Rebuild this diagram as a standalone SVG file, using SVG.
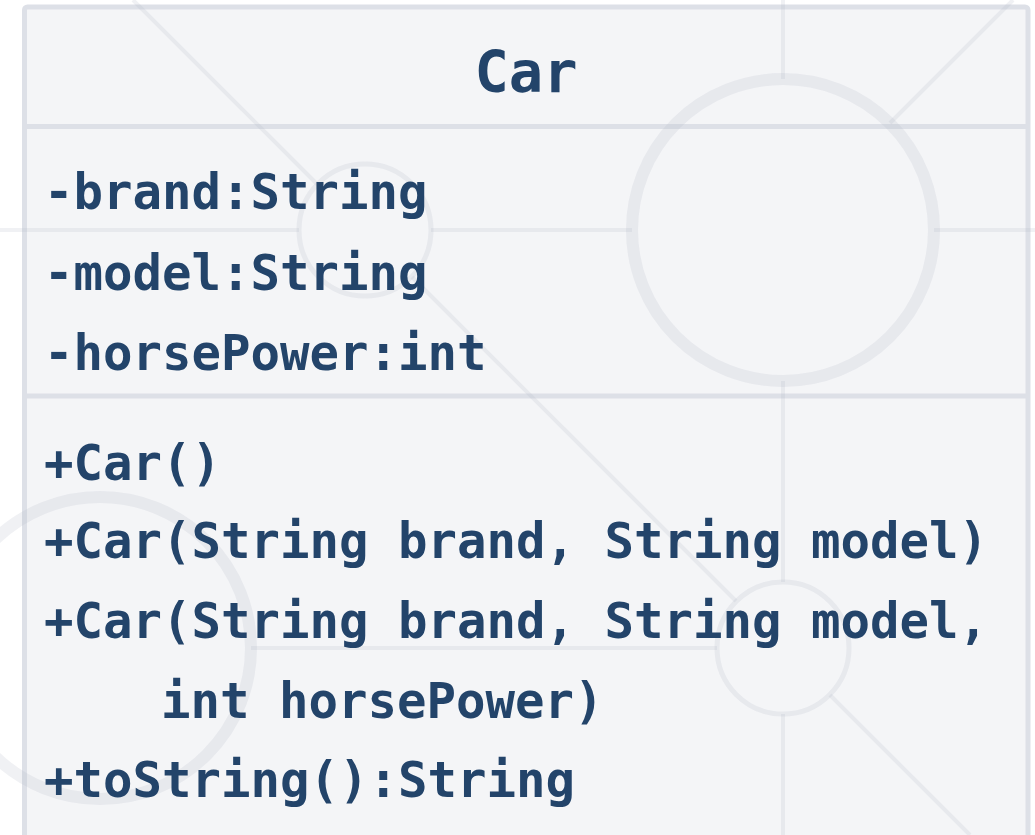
<svg xmlns="http://www.w3.org/2000/svg" width="1035" height="835" viewBox="0 0 1035 835">
  <style>
    .box { fill: #f4f5f7; stroke: #dde0e7; stroke-width: 5; }
    .sep { stroke: #dde0e7; stroke-width: 5; }
    .deco { fill: none; stroke: #b4b9c8; stroke-opacity: 0.2; }
    .ring { stroke-width: 12; }
    .ring-s { stroke-width: 5; }
    .ln { stroke-width: 4; }
    .title { font-family: "DejaVu Sans Mono", "Liberation Mono", monospace; font-weight: bold; font-size: 57px; fill: #23446a; text-anchor: middle; }
    .member { font-family: "DejaVu Sans Mono", "Liberation Mono", monospace; font-weight: bold; font-size: 49px; fill: #23446a; }
  </style>

  <rect width="1035" height="835" fill="#ffffff"/>

  <!-- class box -->
  <g id="car-class">
    <rect class="box" x="24.5" y="7" width="1003.5" height="850" rx="3"/>
    <line class="sep" x1="24.5" y1="126.5" x2="1028" y2="126.5"/>
    <line class="sep" x1="24.5" y1="396" x2="1028" y2="396"/>
  </g>

  <!-- decorative background geometry -->
  <g id="backdrop" class="deco">
    <circle class="ring" cx="783" cy="230" r="151"/>
    <circle class="ring" cx="100" cy="648" r="151"/>
    <circle class="ring-s" cx="365" cy="230" r="66"/>
    <circle class="ring-s" cx="783" cy="648" r="66"/>
    <!-- vertical axis -->
    <line class="ln" x1="783" y1="0" x2="783" y2="79"/>
    <line class="ln" x1="783" y1="381" x2="783" y2="582"/>
    <line class="ln" x1="783" y1="714" x2="783" y2="835"/>
    <!-- horizontal axes -->
    <line class="ln" x1="0" y1="230" x2="299" y2="230"/>
    <line class="ln" x1="431" y1="230" x2="632" y2="230"/>
    <line class="ln" x1="934" y1="230" x2="1035" y2="230"/>
    <line class="ln" x1="251" y1="648" x2="717" y2="648"/>
    <!-- diagonals -->
    <line class="ln" x1="133" y1="0" x2="318" y2="185"/>
    <line class="ln" x1="412" y1="277" x2="736" y2="601"/>
    <line class="ln" x1="830" y1="695" x2="970" y2="835"/>
    <line class="ln" x1="890" y1="123" x2="1013" y2="0"/>
  </g>

  <!-- class name -->
  <g id="car-name">
    <text class="title" x="526" y="92">Car</text>
  </g>

  <!-- attributes -->
  <g id="car-attributes">
    <text class="member" x="44" y="209">-brand:String</text>
    <text class="member" x="44" y="290">-model:String</text>
    <text class="member" x="44" y="370">-horsePower:int</text>
  </g>

  <!-- operations -->
  <g id="car-operations">
    <text class="member" x="44" y="480">+Car()</text>
    <text class="member" x="44" y="558">+Car(String brand, String model)</text>
    <text class="member" x="44" y="638">+Car(String brand, String model,</text>
    <text class="member" x="161" y="718">int horsePower)</text>
    <text class="member" x="44" y="797">+toString():String</text>
  </g>
</svg>
